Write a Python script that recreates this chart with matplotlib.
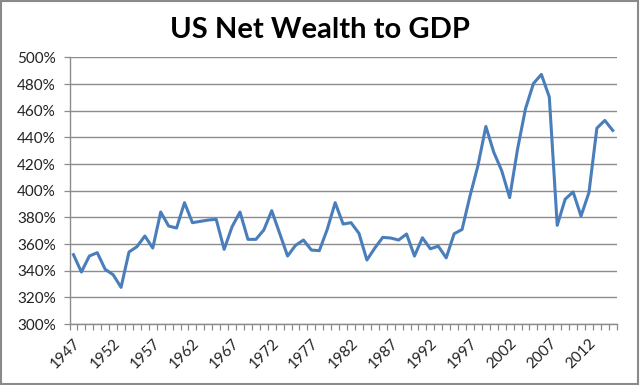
import matplotlib
matplotlib.use("Agg")
import matplotlib.pyplot as plt
from matplotlib.patches import Rectangle
import numpy as np

years = list(range(1947, 2016))
ratio = [352, 339, 351, 353.5, 341, 337, 327.5, 354, 358, 366,
         357, 384, 373.5, 372, 391, 376, 377, 378, 378.5, 356,
         373, 384, 363.5, 363.5, 370.5, 385, 368, 351, 359, 363,
         355.5, 355, 371, 391, 375, 376, 368, 348, 357, 365,
         364.5, 363, 367.5, 351, 364.7, 356.4, 358.4, 349.6, 367.7, 370.9,
         396, 418.7, 448.2, 428.8, 415, 394.8, 431.3, 461.5, 480.4, 487.2,
         470.3, 374, 393.6, 399.1, 381, 398.6, 446.9, 452.7, 445.2]
yticks = [300, 320, 340, 360, 380, 400, 420, 440, 460, 480, 500]
label_years = list(range(1947, 2013, 5))
title = "US Net Wealth to GDP"

plt.rcParams['font.family'] = ['Lato', 'DejaVu Sans']

fig = plt.figure(figsize=(6.4, 3.85), dpi=100)
ax = fig.add_axes([0.1086, 0.1584, 0.8550, 0.6926])

x = np.arange(len(years))
ax.plot(x, ratio, color='#4A7EBB', lw=2.2, solid_joinstyle='round', zorder=3)

ax.set_xlim(-0.5, len(years) - 0.5)
ax.set_ylim(300, 500)
ax.set_yticks(yticks)
ax.set_yticklabels([f"{v}%" for v in yticks], fontsize=11, color='#222222')
ax.grid(axis='y', color='#8c8c8c', lw=1.0)
ax.set_axisbelow(True)

ax.set_xticks(np.arange(-0.5, len(years) + 0.5, 1.0))
ax.set_xticklabels([])
ax.tick_params(axis='x', which='major', direction='out', length=4.5, width=0.9, color='#8c8c8c')
ax.tick_params(axis='y', which='major', direction='out', length=4, width=0.9, color='#8c8c8c', pad=6)

lpos = [years.index(yv) for yv in label_years]
ax.set_xticks(lpos, minor=True)
ax.set_xticklabels([str(yv) for yv in label_years], minor=True, rotation=45,
                   ha='right', va='top', rotation_mode='anchor', fontsize=11, color='#222222')
ax.tick_params(axis='x', which='minor', length=0, pad=9)

for s in ['top', 'right']:
    ax.spines[s].set_visible(False)
for s in ['left', 'bottom']:
    ax.spines[s].set_color('#8c8c8c')
    ax.spines[s].set_linewidth(1.0)

fig.text(0.5, 0.922, title, ha='center', va='center', fontsize=21, fontweight='bold', color='black')

fig.patches.append(Rectangle((0.002, 0.003), 0.995, 0.994, transform=fig.transFigure,
                             fill=False, edgecolor='#8a8a8a', lw=1.5))

fig.savefig('out.png', dpi=100)
